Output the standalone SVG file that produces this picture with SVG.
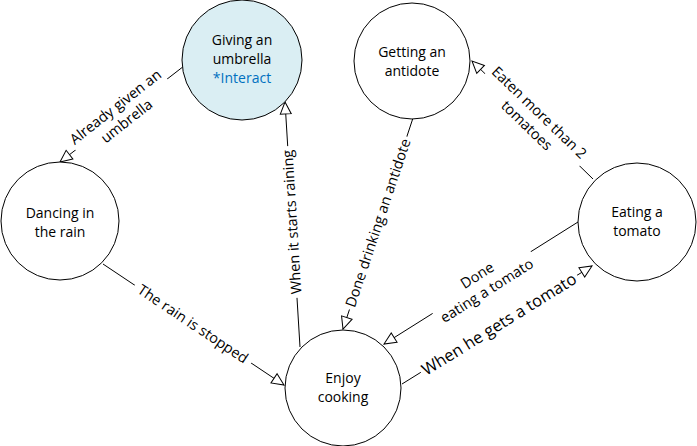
<svg xmlns="http://www.w3.org/2000/svg" width="697" height="446" viewBox="0 0 697 446">
<style>
.node{fill:#fff;stroke:#000;stroke-width:1}
.ntext{font-family:"Open Sans","Liberation Sans",sans-serif;font-size:14px;fill:#000;text-anchor:middle}
.ltext{font-family:"Open Sans","Liberation Sans",sans-serif;font-size:14.5px;fill:#000;text-anchor:middle}
.edge{fill:none;stroke:#000;stroke-width:1;marker-end:url(#arr)}
.bg{fill:#fff;stroke:none}
</style>
<defs>
<marker id="arr" markerUnits="userSpaceOnUse" markerWidth="14" markerHeight="14" viewBox="0 0 14 14" refX="13" refY="7" orient="auto">
<path d="M1,1.5 L13,7 L1,12.5 Z" fill="#fff" stroke="#000" stroke-width="1"/>
</marker>
</defs>
<g id="connectors">
<line class="edge" x1="184" y1="66" x2="60" y2="162"/>
<line class="edge" x1="300" y1="347" x2="285" y2="102"/>
<line class="edge" x1="413" y1="118" x2="343" y2="329"/>
<line class="edge" x1="593" y1="179" x2="472" y2="61"/>
<line class="edge" x1="103" y1="264" x2="284" y2="385"/>
<line class="edge" x1="578" y1="222" x2="384" y2="344"/>
<line class="edge" x1="402" y1="384" x2="592" y2="266"/>
<g transform="translate(121,114) rotate(-38)"><rect class="bg" x="-58" y="-18" width="116" height="36"/><text class="ltext" y="-4">Already given an</text><text class="ltext" y="14">umbrella</text></g>
<g transform="translate(292,222) rotate(-93.5)"><rect class="bg" x="-76" y="-9" width="152" height="18"/><text class="ltext" y="5">When it starts raining</text></g>
<g transform="translate(378,223) rotate(-71.5)"><rect class="bg" x="-91" y="-9" width="182" height="18"/><text class="ltext" y="5">Done drinking an antidote</text></g>
<g transform="translate(533,119) rotate(44)"><rect class="bg" x="-66" y="-18" width="132" height="36"/><text class="ltext" y="-4">Eaten more than 2</text><text class="ltext" y="14">tomatoes</text></g>
<g transform="translate(193,324) rotate(33.7)"><rect class="bg" x="-70" y="-9" width="140" height="18"/><text class="ltext" y="5">The rain is stopped</text></g>
<g transform="translate(482,283) rotate(-32.2)"><rect class="bg" x="-58" y="-18" width="116" height="36"/><text class="ltext" y="-4">Done</text><text class="ltext" y="14">eating a tomato</text></g>
<g transform="translate(499,324) rotate(-31.8)"><rect class="bg" x="-92" y="-10" width="184" height="20"/><text class="ltext" y="6" style="font-size:16.5px">When he gets a tomato</text></g>
</g>
<g id="giving-umbrella">
<circle class="node" cx="242" cy="60" r="60" style="fill:#daeef3"/>
<text class="ntext" x="242" y="45">Giving an</text>
<text class="ntext" x="242" y="64">umbrella</text>
<text class="ntext" x="242" y="83" style="fill:#0070c0">*Interact</text>
</g>
<g id="getting-antidote">
<circle class="node" cx="412" cy="61" r="58"/>
<text class="ntext" x="412" y="57">Getting an</text>
<text class="ntext" x="412" y="76">antidote</text>
</g>
<g id="dancing-rain">
<circle class="node" cx="60" cy="221" r="59"/>
<text class="ntext" x="60" y="218">Dancing in</text>
<text class="ntext" x="60" y="237">the rain</text>
</g>
<g id="eating-tomato">
<circle class="node" cx="637" cy="222" r="59"/>
<text class="ntext" x="637" y="217">Eating a</text>
<text class="ntext" x="637" y="236">tomato</text>
</g>
<g id="enjoy-cooking">
<circle class="node" cx="343" cy="388" r="58"/>
<text class="ntext" x="343" y="383">Enjoy</text>
<text class="ntext" x="343" y="402">cooking</text>
</g>
</svg>
